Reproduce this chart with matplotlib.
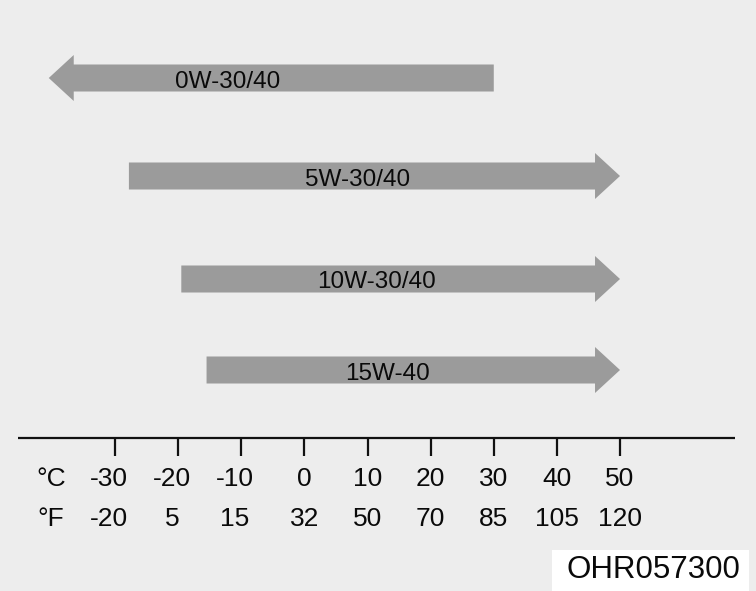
import matplotlib
matplotlib.use("Agg")
import matplotlib.pyplot as plt
from matplotlib.patches import FancyArrow, Rectangle

# oil grades and their usable temperature range (deg C)
grades = ["0W-30/40", "5W-30/40", "10W-30/40", "15W-40"]
low_c = [-40.5, -27.8, -19.5, -15.5]
high_c = [30, 50, 50, 50]
points_left = [True, False, False, False]
label_c = [-12.1, 8.5, 11.5, 13.1]

celsius = [-30, -20, -10, 0, 10, 20, 30, 40, 50]
fahrenheit = ["-20", "5", "15", "32", "50", "70", "85", "105", "120"]

code_label = "OHR057300"

BG = "#ededed"
ARROW = "#9b9b9b"
TEXT = "#0a0a0a"
FONT = ["Liberation Sans", "DejaVu Sans"]

# layout (y in pixel rows from top)
row_y = [78, 176, 279, 370]
axis_y = 438
px_per_c = 6.3125
x0_px = 304.4

fig = plt.figure(figsize=(7.56, 5.91), dpi=100, facecolor=BG)
ax = fig.add_axes([0, 0, 1, 1])
ax.set_facecolor(BG)
ax.set_xlim(-x0_px / px_per_c, (756 - x0_px) / px_per_c)
ax.set_ylim(591, 0)
ax.axis("off")

head_len = 25 / px_per_c
for name, lo, hi, left, lx, y in zip(grades, low_c, high_c, points_left, label_c, row_y):
    if left:
        start, dx = hi, lo - hi
    else:
        start, dx = lo, hi - lo
    ax.add_patch(FancyArrow(start, y, dx, 0, width=27, head_width=46,
                            head_length=head_len, length_includes_head=True,
                            color=ARROW, linewidth=0))
    ax.text(lx, y + 1, name, ha="center", va="center_baseline", fontsize=17.5,
            color=TEXT, family=FONT)

# temperature axis
ax.plot([(18 - x0_px) / px_per_c, (735 - x0_px) / px_per_c], [axis_y, axis_y],
        color="#111111", linewidth=1.6, solid_capstyle="butt")
ax.vlines(celsius, axis_y, axis_y + 18, color="#111111", linewidth=1.6)

for c, f in zip(celsius, fahrenheit):
    # negative labels sit a little left of their tick in the original
    shift = -1.0 if c < 0 else 0.0
    ax.text(c + shift, 477, str(c), ha="center", va="center_baseline", fontsize=19,
            color=TEXT, family=FONT)
    ax.text(c + shift, 516, f, ha="center", va="center_baseline", fontsize=19,
            color=TEXT, family=FONT)

ax.text((51 - x0_px) / px_per_c, 477, "°C", ha="center", va="center_baseline",
        fontsize=19, color=TEXT, family=FONT)
ax.text((51 - x0_px) / px_per_c, 516, "°F", ha="center", va="center_baseline",
        fontsize=19, color=TEXT, family=FONT)

# image code box
bx0 = (552 - x0_px) / px_per_c
bx1 = (749 - x0_px) / px_per_c
ax.add_patch(Rectangle((bx0, 550), bx1 - bx0, 41, color="white", linewidth=0))
ax.text((bx0 + bx1) / 2 + 0.5, 570, code_label, ha="center", va="center",
        fontsize=22.5, color=TEXT, family=FONT)

fig.savefig("out.png", dpi=100, facecolor=BG)
